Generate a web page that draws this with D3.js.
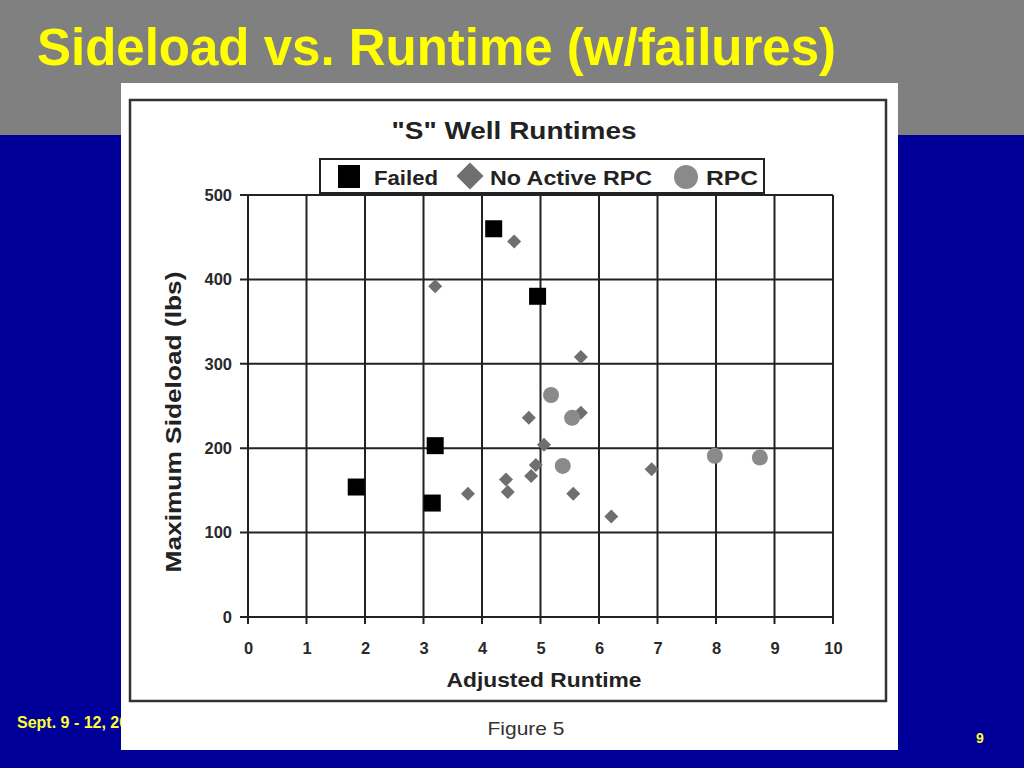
<!DOCTYPE html>
<html><head><meta charset="utf-8">
<script src="https://cdn.jsdelivr.net/npm/d3@7"></script>
<style>html,body{margin:0;padding:0;background:#000099;}svg{display:block;}</style>
</head><body>
<svg id="c" width="1024" height="768"></svg>
<script>
const failed = [[4.2,460],[4.95,380],[3.2,203],[1.85,154],[3.15,135]];
const noActiveRPC = [[4.55,445],[3.2,392],[5.69,308],[4.8,236],[5.69,242],[5.06,204],[4.92,180],[4.84,167],[4.41,163],[4.44,148],[3.76,146],[5.56,146],[6.21,119],[6.9,175]];
const rpc = [[5.18,263],[5.54,236],[5.38,179],[7.98,191],[8.75,189]];
const xTicks = [0,1,2,3,4,5,6,7,8,9,10];
const yTicks = [0,100,200,300,400,500];
const legendLabels = ["Failed","No Active RPC","RPC"];

const svg = d3.select("#c");
const font = "Liberation Sans, Arial, sans-serif";
// slide background
svg.append("rect").attr("x",0).attr("y",0).attr("width",1024).attr("height",768).attr("fill","#000099");
svg.append("rect").attr("x",0).attr("y",0).attr("width",1024).attr("height",135).attr("fill","#808080");
svg.append("text").attr("x",37).attr("y",65).attr("fill","#ffff00")
  .attr("font-family",font).attr("font-weight","bold").attr("font-size",51)
  .attr("textLength",799).attr("lengthAdjust","spacingAndGlyphs")
  .text("Sideload vs. Runtime (w/failures)");
svg.append("text").attr("x",17).attr("y",728).attr("fill","#ffff33")
  .attr("font-family",font).attr("font-weight","bold").attr("font-size",16)
  .text("Sept. 9 - 12, 2008");
svg.append("text").attr("x",976).attr("y",743).attr("fill","#ffff33")
  .attr("font-family",font).attr("font-weight","bold").attr("font-size",14)
  .text("9");

// white picture
svg.append("rect").attr("x",121).attr("y",83).attr("width",777).attr("height",667).attr("fill","#ffffff");
svg.append("rect").attr("x",130).attr("y",100).attr("width",756).attr("height",601)
  .attr("fill","none").attr("stroke","#333").attr("stroke-width",2.5);

const x = d3.scaleLinear().domain([0,10]).range([248,833]);
const y = d3.scaleLinear().domain([0,500]).range([617,195]);
const ink = "#222";

// grid
const g = svg.append("g");
g.selectAll(".vg").data(xTicks).join("line")
  .attr("x1",d=>x(d)).attr("x2",d=>x(d)).attr("y1",y(500)).attr("y2",y(0)+7)
  .attr("stroke",ink).attr("stroke-width",2);
g.selectAll(".hg").data(yTicks).join("line")
  .attr("x1",x(0)-8).attr("x2",x(10)).attr("y1",d=>y(d)).attr("y2",d=>y(d))
  .attr("stroke",ink).attr("stroke-width",2);

// axes labels via d3 axes (no domain)
const xa = svg.append("g").attr("transform",`translate(0,${y(0)})`)
  .call(d3.axisBottom(x).tickValues(xTicks).tickSize(0).tickPadding(25).tickFormat(d3.format("d")));
const ya = svg.append("g").attr("transform",`translate(${x(0)},0)`)
  .call(d3.axisLeft(y).tickValues(yTicks).tickSize(0).tickPadding(16).tickFormat(d3.format("d")));
[xa,ya].forEach(a=>{a.select(".domain").remove();
  a.selectAll("text").attr("font-family",font).attr("font-weight","bold").attr("font-size",16.5).attr("fill","#2a2a2a");});

svg.append("text").attr("x",544).attr("y",687).attr("text-anchor","middle")
  .attr("font-family",font).attr("font-weight","bold").attr("font-size",21).attr("fill","#222")
  .attr("textLength",195).attr("lengthAdjust","spacingAndGlyphs").text("Adjusted Runtime");
svg.append("text").attr("transform","translate(181,422) rotate(-90)").attr("text-anchor","middle")
  .attr("font-family",font).attr("font-weight","bold").attr("font-size",22).attr("fill","#222")
  .attr("textLength",301).attr("lengthAdjust","spacingAndGlyphs").text("Maximum Sideload (lbs)");
svg.append("text").attr("x",514).attr("y",139).attr("text-anchor","middle")
  .attr("font-family",font).attr("font-weight","bold").attr("font-size",24).attr("fill","#222")
  .attr("textLength",245).attr("lengthAdjust","spacingAndGlyphs").text("\"S\" Well Runtimes");
svg.append("text").attr("x",526).attr("y",735).attr("text-anchor","middle")
  .attr("font-family",font).attr("font-size",19).attr("fill","#333")
  .attr("textLength",77).attr("lengthAdjust","spacingAndGlyphs").text("Figure 5");

// points
svg.selectAll(".dia").data(noActiveRPC).join("path")
  .attr("d",d3.symbol(d3.symbolDiamond2,125)())
  .attr("transform",d=>`translate(${x(d[0])},${y(d[1])})`).attr("fill","#6f6f6f");
svg.selectAll(".cir").data(rpc).join("circle")
  .attr("cx",d=>x(d[0])).attr("cy",d=>y(d[1])).attr("r",8).attr("fill","#8a8a8a");
svg.selectAll(".sq").data(failed).join("rect")
  .attr("x",d=>x(d[0])-8.5).attr("y",d=>y(d[1])-8.5).attr("width",17).attr("height",17).attr("fill","#000");

// legend
const lg = svg.append("g");
lg.append("rect").attr("x",320).attr("y",159).attr("width",444).attr("height",34)
  .attr("fill","#fff").attr("stroke",ink).attr("stroke-width",2);
lg.append("rect").attr("x",338).attr("y",165).attr("width",22).attr("height",23).attr("fill","#000");
lg.append("path").attr("d",d3.symbol(d3.symbolDiamond2,465)()).attr("transform","translate(470,176)").attr("fill","#6f6f6f");
lg.append("circle").attr("cx",686).attr("cy",177).attr("r",12).attr("fill","#8a8a8a");
const lx = [374,490,706];
const lw = [64,162,52];
lg.selectAll(".lt").data(legendLabels).join("text")
  .attr("x",(d,i)=>lx[i]).attr("y",185)
  .attr("font-family",font).attr("font-weight","bold").attr("font-size",20).attr("fill","#222")
  .attr("textLength",(d,i)=>lw[i]).attr("lengthAdjust","spacingAndGlyphs").text(d=>d);
</script>
</body></html>
